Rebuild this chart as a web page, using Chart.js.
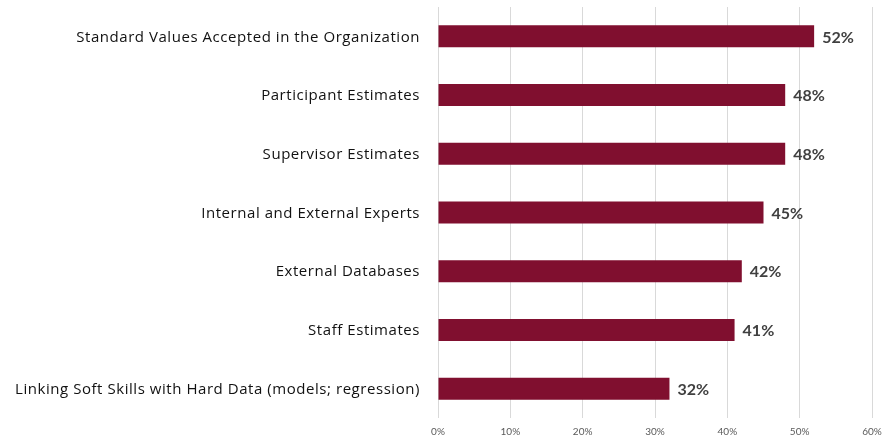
<!DOCTYPE html>
<html>
<head>
<meta charset="utf-8">
<script src="https://cdn.jsdelivr.net/npm/chart.js@4.4.1/dist/chart.umd.min.js"></script>
<style>
  html, body { margin: 0; padding: 0; background: #fff; }
  #wrap { width: 890px; height: 441px; }
</style>
</head>
<body>
<div id="wrap"><canvas id="methods-chart"></canvas></div>
<script>
const categories = [
    "Standard Values Accepted in the Organization",
    "Participant Estimates",
    "Supervisor Estimates",
    "Internal and External Experts",
    "External Databases",
    "Staff Estimates",
    "Linking Soft Skills with Hard Data (models; regression)"
];
const percentValues = [52, 48, 48, 45, 42, 41, 32];
const tickValues = [0, 10, 20, 30, 40, 50, 60];

// category names, drawn by hand so they can get a bit of letter spacing
const categoryLabels = {
    id: 'categoryLabels',
    afterDraw(chart) {
        const ctx = chart.ctx;
        const yScale = chart.scales.y;
        ctx.save();
        ctx.font = '15px "Open Sans", Lato, sans-serif';
        if ('letterSpacing' in ctx) ctx.letterSpacing = '0.55px';
        ctx.fillStyle = '#111111';
        ctx.textAlign = 'right';
        ctx.textBaseline = 'middle';
        yScale.ticks.forEach((t, i) => {
            ctx.fillText(categories[i], chart.chartArea.left - 18, yScale.getPixelForTick(i) + 1);
        });
        ctx.restore();
    }
};

// draws the bold value at the end of each bar
const valueLabels = {
    id: 'valueLabels',
    afterDatasetsDraw(chart) {
        const ctx = chart.ctx;
        const meta = chart.getDatasetMeta(0);
        ctx.save();
        ctx.font = 'bold 16px Lato, "Open Sans", sans-serif';
        ctx.fillStyle = '#404040';
        ctx.textAlign = 'left';
        ctx.textBaseline = 'middle';
        meta.data.forEach((bar, i) => {
            ctx.fillText(percentValues[i] + '%', bar.x + 8, bar.y + 1);
        });
        ctx.restore();
    }
};

const ctx = document.getElementById('methods-chart').getContext('2d');
const methodsChart = new Chart(ctx, {
    type: 'bar',
    data: {
        labels: categories,
        datasets: [{
            data: percentValues,
            backgroundColor: '#800F2F',
            borderColor: '#800F2F',
            borderWidth: 0,
            categoryPercentage: 1,
            barPercentage: 0.375,
        }],
    },
    options: {
        indexAxis: 'y',
        responsive: true,
        maintainAspectRatio: false,
        animation: false,
        layout: { padding: { top: 7, right: 18, left: 0, bottom: 0 } },
        plugins: {
            legend: { display: false },
            tooltip: { enabled: false },
        },
        scales: {
            x: {
                min: 0,
                max: 60,
                afterBuildTicks: (scale) => { scale.ticks = tickValues.map(v => ({ value: v })); },
                afterFit: (scale) => { scale.height = 23; },
                grid: { color: '#d9d9d9', lineWidth: 1, drawTicks: false },
                border: { display: false },
                ticks: {
                    color: '#595959',
                    font: { family: 'Lato, "Open Sans", sans-serif', size: 10 },
                    padding: 8,
                    callback: (v) => v + '%',
                },
            },
            y: {
                afterFit: (scale) => {
                    scale.width = 438;
                    scale.paddingTop = 0;
                    scale.paddingBottom = 0;
                },
                grid: { display: false, drawTicks: false },
                border: { display: false },
                ticks: { display: false },
            },
        },
    },
    plugins: [valueLabels, categoryLabels],
});
</script>
</body>
</html>
